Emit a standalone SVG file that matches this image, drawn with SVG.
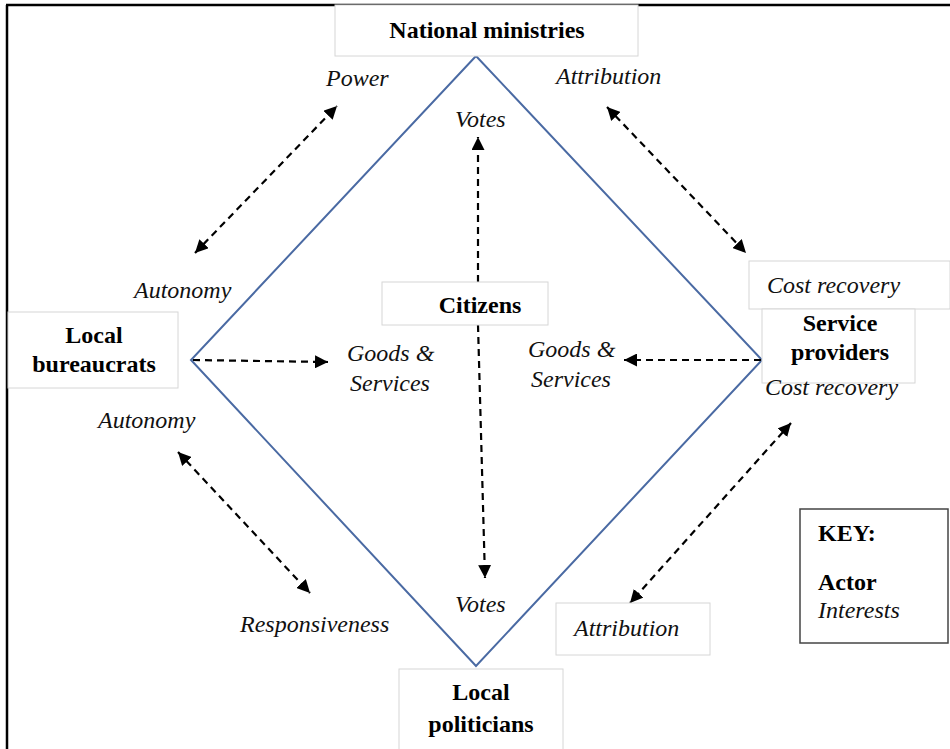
<svg xmlns="http://www.w3.org/2000/svg" width="950" height="749" viewBox="0 0 950 749">
<style>
.box{fill:#fff;stroke:#d6d6d6;stroke-width:1}
.b{font-family:"Liberation Serif","Times New Roman",serif;font-weight:bold;font-size:24px;fill:#000}
.i{font-family:"Liberation Serif","Times New Roman",serif;font-style:italic;font-size:24px;fill:#111}
.c{text-anchor:middle}
.arr{fill:none;stroke:#000;stroke-width:2.2;stroke-dasharray:7,5}
</style>
<defs>
<marker id="ah" viewBox="0 0 10 10" refX="10" refY="5" markerUnits="userSpaceOnUse" markerWidth="13" markerHeight="13" orient="auto-start-reverse">
<path d="M0,0 L10,5 L0,10 z" fill="#000"/>
</marker>
</defs>
<rect width="950" height="749" fill="#fff"/>
<g id="frame" stroke="#000" stroke-width="2.5" fill="none">
<path d="M6,5 H950 M7,5 V749"/>
</g>
<g id="diamond">
<polygon points="476,56 762,360 476,666 191,360" fill="none" stroke="#4a6aa3" stroke-width="2"/>
</g>
<g id="connectors">
<line class="arr" x1="195" y1="253" x2="337" y2="106" marker-start="url(#ah)" marker-end="url(#ah)"/>
<line class="arr" x1="607" y1="107" x2="746" y2="253" marker-start="url(#ah)" marker-end="url(#ah)"/>
<line class="arr" x1="178" y1="452" x2="310" y2="593" marker-start="url(#ah)" marker-end="url(#ah)"/>
<line class="arr" x1="791" y1="423" x2="630" y2="603" marker-start="url(#ah)" marker-end="url(#ah)"/>
<line class="arr" x1="478" y1="282" x2="478" y2="137" marker-end="url(#ah)"/>
<line class="arr" x1="478" y1="325" x2="485" y2="578" marker-end="url(#ah)"/>
<line class="arr" x1="193" y1="360" x2="328" y2="362" marker-end="url(#ah)"/>
<line class="arr" x1="761" y1="360" x2="624" y2="360" marker-end="url(#ah)"/>
</g>
<g id="national-ministries">
<rect class="box" x="335" y="5" width="303" height="51"/>
<text class="b c" x="487" y="38">National ministries</text>
</g>
<g id="local-bureaucrats">
<rect class="box" x="8" y="312" width="170" height="76"/>
<text class="b c" x="94" y="343">Local</text>
<text class="b c" x="94" y="372">bureaucrats</text>
</g>
<g id="cost-recovery-top">
<rect class="box" x="749" y="261" width="201" height="48"/>
<text class="i" x="767" y="293">Cost recovery</text>
</g>
<g id="service-providers">
<rect class="box" x="762" y="309" width="153" height="74"/>
<text class="b c" x="840" y="331">Service</text>
<text class="b c" x="840" y="360">providers</text>
<text class="i" x="765" y="395">Cost recovery</text>
</g>
<g id="citizens">
<rect class="box" x="382" y="282" width="166" height="43"/>
<text class="b c" x="480" y="313">Citizens</text>
</g>
<g id="local-politicians">
<rect class="box" x="399" y="669" width="164" height="85"/>
<text class="b c" x="481" y="700">Local</text>
<text class="b c" x="481" y="732">politicians</text>
</g>
<g id="attribution-bottom">
<rect class="box" x="556" y="603" width="154" height="52"/>
<text class="i" x="574" y="636">Attribution</text>
</g>
<g id="key">
<rect x="800" y="509" width="148" height="134" fill="#fff" stroke="#444" stroke-width="1.5"/>
<text class="b" x="818" y="541">KEY:</text>
<text class="b" x="818" y="590">Actor</text>
<text class="i" x="818" y="618">Interests</text>
</g>
<g id="labels">
<text class="i" x="326" y="86">Power</text>
<text class="i" x="556" y="84">Attribution</text>
<text class="i" x="455" y="127">Votes</text>
<text class="i" x="134" y="298">Autonomy</text>
<text class="i" x="347" y="361">Goods &amp;</text>
<text class="i" x="350" y="391">Services</text>
<text class="i" x="528" y="357">Goods &amp;</text>
<text class="i" x="531" y="387">Services</text>
<text class="i" x="98" y="428">Autonomy</text>
<text class="i" x="240" y="632">Responsiveness</text>
<text class="i" x="455" y="612">Votes</text>
</g>
</svg>
